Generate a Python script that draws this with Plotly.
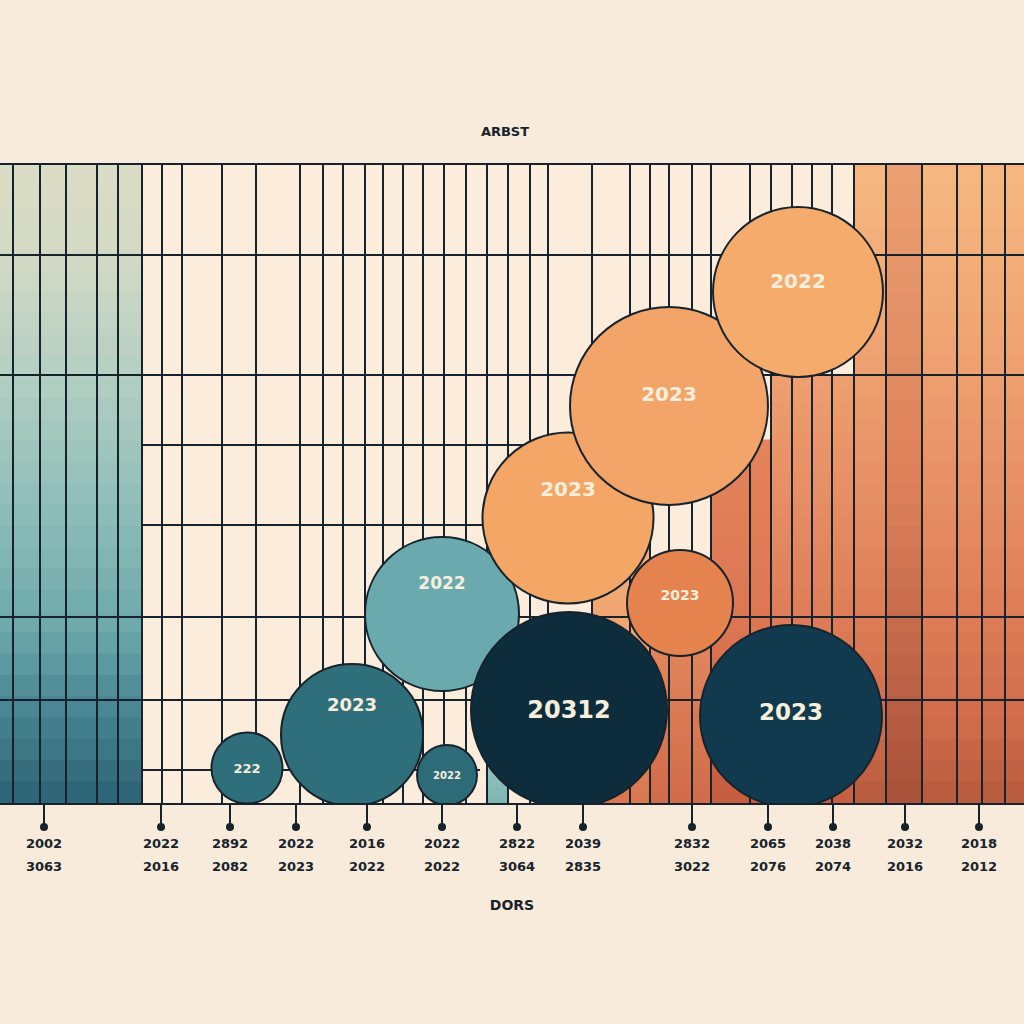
import plotly.graph_objects as go

# ---------------- data ----------------
tick_positions = [44, 161, 230, 296, 367, 442, 517, 583, 692, 768, 833, 905, 979]
tick_line1 = ["2002", "2022", "2892", "2022", "2016", "2022", "2822", "2039",
              "2832", "2065", "2038", "2032", "2018"]
tick_line2 = ["3063", "2016", "2082", "2023", "2022", "2022", "3064", "2835",
              "3022", "2076", "2074", "2016", "2012"]

bubble_x = [247, 352, 447, 442, 569, 568, 680, 669, 798, 791]
bubble_y = [35, 68, 28, 189, 93, 285, 200, 397, 511, 87]
bubble_size = [71, 142, 60, 154, 196, 171, 106, 198, 170, 182]
bubble_labels = ["222", "2023", "2022", "2022", "20312", "2023", "2023", "2023", "2022", "2023"]

# ---------------- style ----------------
bubble_colors = ["#2f6f7c", "#2f6e7b", "#2e6b78", "#6aaaaf", "#0d2d3d",
                 "#f3a665", "#e5834f", "#f3a468", "#f4ab6b", "#123a4e"]
label_offsets = [-2, 29, -1, 29, -2, 27, 7, 10, 9, 2]
label_sizes = [13, 18, 10, 17, 24, 20, 14, 20, 20, 23]

INK = "#17232c"
FONT = "DejaVu Sans"
Y0, Y1 = 0, 638  # plot area spans pixel rows 803 .. 165
PLOT_H = 638


def hex2rgb(h):
    h = h.lstrip("#")
    return tuple(int(h[i:i + 2], 16) for i in (0, 2, 4))


def interp(stops, t):
    for (p0, c0), (p1, c1) in zip(stops[:-1], stops[1:]):
        if p0 <= t <= p1:
            f = 0 if p1 == p0 else (t - p0) / (p1 - p0)
            a, b = hex2rgb(c0), hex2rgb(c1)
            return "rgb(%d,%d,%d)" % tuple(round(a[i] + (b[i] - a[i]) * f) for i in range(3))
    return stops[-1][1]


shapes = []


def band(x0, x1, ytop, ybot, stops, n=30):
    h = (ytop - ybot) / n
    for i in range(n):
        t = (i + 0.5) / n
        shapes.append(dict(type="rect", xref="x", yref="y", layer="below",
                           x0=x0, x1=x1, y0=ytop - (i + 1) * h - 0.5, y1=ytop - i * h + 0.5,
                           fillcolor=interp(stops, t), line=dict(width=0)))


def py(p):
    return 803 - p


# left teal band
band(0, 142, py(165), py(803), [(0, "#dcdcc6"), (0.14, "#d3d9c4"), (0.33, "#b4cfc3"),
                                (0.55, "#8cbcb7"), (0.72, "#6ea9ab"), (0.85, "#4a8693"),
                                (1, "#2c6274")])
# right orange band
band(854, 1024, py(165), py(803), [(0, "#f5b781"), (0.2, "#f2aa76"), (0.45, "#e99469"),
                                   (0.7, "#de7d58"), (0.88, "#cf6b4b"), (1, "#b65a3e")])
band(886, 922, py(165), py(803), [(0, "#eca072"), (0.5, "#dd805a"), (1, "#a9503a")])
# middle orange columns
band(770, 854, py(375), py(803), [(0, "#ee9f70"), (0.5, "#e0815a"), (1, "#c65f42")])
band(710, 770, py(440), py(803), [(0, "#e4845b"), (0.5, "#dc7653"), (1, "#c55c40")])
band(650, 710, py(560), py(803), [(0, "#eb9466"), (1, "#d06b4a")])
band(592, 650, py(500), py(803), [(0, "#f5b67e"), (0.45, "#f0a370"), (1, "#d9754f")])
band(487, 508, py(760), py(803), [(0, "#94c6c2"), (1, "#7fb5b3")])

# horizontal grid segments (pixel rows -> chart units)
h_lines = [(255, 0, 1024), (375, 0, 1024), (445, 142, 600), (525, 142, 600),
           (617, 0, 1024), (700, 0, 1024), (770, 142, 480)]
for yy, xa, xb in h_lines:
    shapes.append(dict(type="line", xref="x", yref="y", layer="between",
                       x0=xa, x1=xb, y0=py(yy), y1=py(yy), line=dict(color=INK, width=2)))

# dots at the ends of the tick marks
for tx in tick_positions:
    shapes.append(dict(type="circle", xref="x", yref="paper", layer="above",
                       x0=tx - 4, x1=tx + 4, y0=(-24 - 4) / PLOT_H, y1=(-24 + 4) / PLOT_H,
                       fillcolor=INK, line=dict(width=0)))

v_lines = [13, 40, 66, 97, 118, 142, 162, 182, 222, 256, 300, 323, 343, 365, 383, 403,
           423, 444, 466, 487, 508, 530, 548, 592, 630, 650, 669, 692, 711, 750, 771,
           792, 812, 832, 854, 886, 922, 957, 982, 1005]

fig = go.Figure()

fig.add_trace(go.Scatter(
    x=bubble_x, y=bubble_y, mode="markers",
    marker=dict(size=bubble_size, sizemode="diameter", sizeref=1,
                color=bubble_colors, opacity=1,
                line=dict(color=INK, width=2)),
    hoverinfo="skip", showlegend=False))

fig.add_trace(go.Scatter(
    x=bubble_x, y=[y + o for y, o in zip(bubble_y, label_offsets)],
    mode="text", text=bubble_labels,
    textfont=dict(color="#f7eedb", size=label_sizes, family=FONT, weight="bold"),
    hoverinfo="skip", showlegend=False))

# empty trace so the second-line tick axis is drawn
fig.add_trace(go.Scatter(x=[None], y=[None], xaxis="x2", yaxis="y",
                         hoverinfo="skip", showlegend=False))

tick_font = dict(size=13, color=INK, family=FONT, weight="bold")

fig.update_layout(
    width=1024, height=1024,
    margin=dict(l=0, r=0, t=165, b=221),
    paper_bgcolor="#f8ebdb", plot_bgcolor="#fbecdc",
    shapes=shapes,
    title=dict(text="ARBST", x=505 / 1024, xanchor="center", y=1 - 131 / 1024,
               yanchor="middle", yref="container",
               font=dict(size=13, color=INK, family=FONT, weight="bold")),
    xaxis=dict(range=[0, 1024], showgrid=False, zeroline=False,
               showline=True, mirror=True, linecolor=INK, linewidth=2,
               tickmode="array", tickvals=tick_positions, ticktext=tick_line1,
               ticks="outside", ticklen=24, tickwidth=2, tickcolor=INK,
               tickfont=tick_font, ticklabelstandoff=3,
               minor=dict(tickmode="array", tickvals=v_lines, showgrid=True,
                          gridcolor=INK, gridwidth=2, ticks=""),
               title=dict(text="DORS", standoff=51,
                          font=dict(size=14, color=INK, family=FONT, weight="bold"))),
    xaxis2=dict(range=[0, 1024], overlaying="x", anchor="y", side="bottom",
                showgrid=False, zeroline=False, showline=False,
                tickmode="array", tickvals=tick_positions, ticktext=tick_line2,
                ticks="", tickfont=tick_font, ticklabelstandoff=54),
    yaxis=dict(range=[Y0, Y1], showgrid=False, zeroline=False, showline=False,
               showticklabels=False, ticks=""),
)

fig.write_html("out.html", config={"displayModeBar": False},
               post_script="document.body.style.margin='0';document.body.style.background='#f8ebdb';")
